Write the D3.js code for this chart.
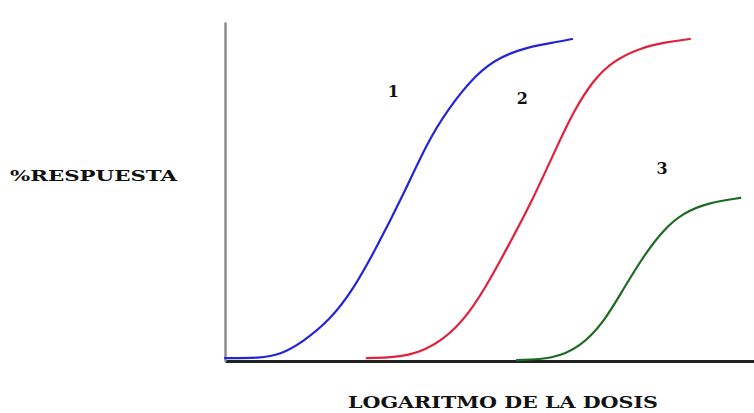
<!DOCTYPE html>
<html><head><meta charset="utf-8">
<script src="https://cdn.jsdelivr.net/npm/d3@7"></script>
<style>body{margin:0;background:#fff}svg{display:block}</style>
</head><body>
<svg id="c" width="754" height="413"></svg>
<script>
// log-dose (0-100 units) and % response
const blueX = [0, 6.6, 10.4, 14.7, 19.8, 24.2, 28.7, 33.5, 38.2, 42, 47.6, 52, 57.1, 62.8, 65.6];
const blueY = [0.3, 0.3, 1.3, 5.3, 12.1, 21.5, 34.9, 50.5, 67.3, 77.6, 89.1, 94.1, 97.2, 98.8, 99.7];
const redX = [26.8, 35, 41.2, 46.3, 50.7, 53.9, 57.7, 62.8, 65.8, 69.6, 73.3, 78.4, 83.6, 87.9];
const redY = [0.3, 0.6, 5.6, 14.3, 26.5, 36.4, 48, 66.4, 76.9, 86.9, 92.8, 96.9, 98.8, 99.7];
const greenX = [55.2, 62, 67.1, 71.5, 75.2, 79, 82.8, 86.6, 91.1, 97.4];
const greenY = [-0.3, 0, 3.7, 11.2, 21.5, 31.8, 40.2, 45.5, 48.6, 50.2];
const curveNames = ["1", "2", "3"];
const labelPos = [[31.8, 81.6], [56.2, 79.5], [82.6, 57.7]];
const yTitle = "%RESPUESTA";
const xTitle = "LOGARITMO DE LA DOSIS";

const svg = d3.select("#c");
const x = d3.scaleLinear().domain([0, 100]).range([225, 754]);
const y = d3.scaleLinear().domain([-0.6, 105]).range([361, 22]);

// axes without ticks
const gx = svg.append("g").attr("transform", `translate(0,${y(-0.6)})`)
  .call(d3.axisBottom(x).tickValues([]).tickSizeOuter(0));
gx.select(".domain").attr("stroke", "#222").attr("stroke-width", 3);
const gy = svg.append("g").attr("transform", `translate(${x(0)},0)`)
  .call(d3.axisLeft(y).tickValues([]).tickSizeOuter(0));
gy.select(".domain").attr("stroke", "#8c8c8c").attr("stroke-width", 2.5);

const series = [
  {xs: blueX, ys: blueY, color: "#2323d8"},
  {xs: redX, ys: redY, color: "#e3203c"},
  {xs: greenX, ys: greenY, color: "#1d6a24"}
];
const line = d3.line().x(d => x(d[0])).y(d => y(d[1])).curve(d3.curveBasis);
series.forEach(s => {
  svg.append("path")
    .datum(s.xs.map((v, i) => [v, s.ys[i]]))
    .attr("d", line)
    .attr("fill", "none")
    .attr("stroke", s.color)
    .attr("stroke-width", 2.2)
    .attr("stroke-linecap", "round");
});

const font = "'DejaVu Serif', 'Liberation Serif', serif";
svg.selectAll("text.num").data(curveNames).enter().append("text")
  .attr("class", "num")
  .attr("x", (d, i) => x(labelPos[i][0]))
  .attr("y", (d, i) => y(labelPos[i][1]))
  .attr("text-anchor", "middle")
  .attr("font-family", font).attr("font-weight", "bold").attr("font-size", 16)
  .attr("fill", "#111")
  .text(d => d);

svg.append("text").attr("x", 10).attr("y", 181)
  .attr("font-family", font).attr("font-weight", "bold").attr("font-size", 15)
  .attr("textLength", 167).attr("lengthAdjust", "spacingAndGlyphs")
  .attr("fill", "#111").text(yTitle);

svg.append("text").attr("x", 348).attr("y", 408)
  .attr("font-family", font).attr("font-weight", "bold").attr("font-size", 17)
  .attr("textLength", 310).attr("lengthAdjust", "spacingAndGlyphs")
  .attr("fill", "#111").text(xTitle);
</script>
</body></html>
